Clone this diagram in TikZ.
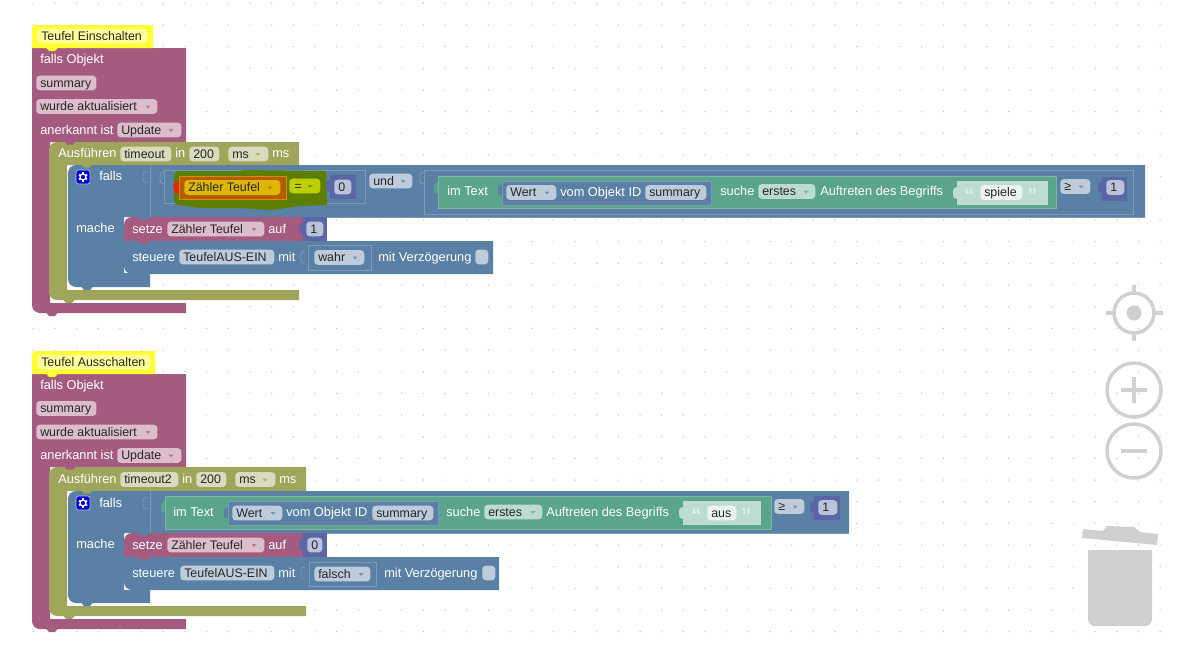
\documentclass[tikz,border=0pt]{standalone}
\usepackage{fontspec}
\setmainfont{Liberation Sans}
\usetikzlibrary{calc}

\definecolor{magblock}{HTML}{A55B80}
\definecolor{magfield}{HTML}{DBBDCC}
\definecolor{oliveblock}{HTML}{9FA55B}
\definecolor{olivefield}{HTML}{D8DBBD}
\definecolor{blueblock}{HTML}{5B80A5}
\definecolor{bluefield}{HTML}{BDCCDB}
\definecolor{blueline}{HTML}{7C99B7}
\definecolor{greenblock}{HTML}{5BA58C}
\definecolor{greenline}{HTML}{7CB7A3}
\definecolor{greenfield}{HTML}{BDDBD1}
\definecolor{purpblock}{HTML}{5B67A5}
\definecolor{purpfield}{HTML}{BDC2DB}
\definecolor{hatyellow}{HTML}{FFFF33}
\definecolor{hatfield}{HTML}{FFFF99}
\definecolor{glowgreen}{HTML}{5C7F00}
\definecolor{gloworange}{HTML}{B85A00}
\definecolor{glowfield}{HTML}{DDB700}
\definecolor{glowlime}{HTML}{BFD000}
\definecolor{iconcol}{HTML}{D0D0D0}
\definecolor{griddot}{HTML}{C0C0C0}

\tikzset{
  fieldshape/.style={rounded corners=2.5pt,inner xsep=3pt,inner ysep=0.85pt,text height=7.8pt,text depth=1.4pt,
                     text=black!85,font=\fontsize{9.3}{11}\selectfont,anchor=west},
  blocklabel/.style={inner sep=0pt,text height=7.8pt,text depth=1.4pt,text=white,
                     font=\fontsize{9.6}{11}\selectfont,anchor=west},
  quotemark/.style={blocklabel,text=white!55!greenfield,font=\fontsize{15}{15}\selectfont\bfseries},
  slotline/.style={draw=blueline,line width=0.6pt},
  iconline/.style={draw=iconcol,line width=2.6pt}
}

% name, colour, left, right, middle, text
\newcommand{\fieldbox}[6]{%
  \pgfmathsetlengthmacro{\fieldw}{(#4-#3-8)*0.75pt}%
  \node[fieldshape,fill=#2] (#1) at (#3,#5) {\makebox[\fieldw][l]{#6}};}
% x, y, colour
\newcommand{\dropmark}[3]{\fill[#3,opacity=0.7] (#1-2.5,#2-1) -- (#1+2.5,#2-1) -- (#1,#2+2) -- cycle;}
\newcommand{\notchmark}[3]{\fill[#3] (#1,#2-0.5) -- (#1+3,#2+3) -- (#1+9,#2+3) -- (#1+12,#2-0.5) -- cycle;}
\newcommand{\tabmark}[3]{\fill[#3] (#1+0.5,#2) -- (#1-3,#2+1) -- (#1-4,#2+4) -- (#1-4,#2+8) -- (#1-3,#2+11) -- (#1+0.5,#2+12) -- cycle;}
\newcommand{\socketmark}[2]{\draw[blueline,line width=0.6pt] (#1,#2) -- (#1-3,#2+1) -- (#1-4,#2+4) -- (#1-4,#2+8) -- (#1-3,#2+11) -- (#1,#2+12);}
\newcommand{\gearmark}[2]{%
  \fill[blue!85!black,draw=bluefield,line width=0.4pt,rounded corners=2pt] (#1-7,#2-7) rectangle (#1+7,#2+7);
  \draw[white,line width=1pt] (#1,#2) circle (3);
  \foreach \a in {30,90,...,330}
    \draw[white,line width=1.1pt] ($(#1,#2)+(\a:3)$) -- ($(#1,#2)+(\a:4.8)$);}

\begin{document}
\begin{tikzpicture}[x=0.75pt,y=-0.75pt]
  \useasboundingbox (0,0) rectangle (1181,644);
  \fill[white] (0,0) rectangle (1181,644);

  % workspace icons
  \draw[iconline] (1134,313) circle (20);
  \fill[iconcol] (1134,313) circle (7.5);
  \draw[iconline] (1134,285) -- (1134,292);
  \draw[iconline] (1134,334) -- (1134,341);
  \draw[iconline] (1106,313) -- (1113,313);
  \draw[iconline] (1155,313) -- (1163,313);
  \draw[iconline] (1134,390) circle (27);
  \draw[iconline] (1134,377) -- (1134,403);
  \draw[iconline] (1121,390) -- (1147,390);
  \draw[iconline] (1134,451) circle (27);
  \draw[iconline] (1121,451) -- (1147,451);
  \fill[iconcol] (1083,529) -- (1103,531) -- (1107,526) -- (1134,527) -- (1140,532) -- (1158,534) -- (1157,545) -- (1082,538) -- cycle;
  \fill[iconcol,rounded corners=5pt] (1088,590) -- (1088,626) -- (1152,626) [sharp corners] -- (1152,550) -- (1088,550) -- cycle;
  \fill[white] (1163,0) rectangle (1181,644);

  \foreach \i in {0,...,52}
    \foreach \j in {0,...,29}
      \fill[griddot] ({33.3+21.67*\i},{3.3+21.67*\j}) circle (0.7);

  %%% first group
  \fill[magblock] (100,48) -- (32,48) [rounded corners=6pt] -- (32,313) [sharp corners] -- (186,313) -- (186,303) -- (50,303) -- (50,142) -- (186,142) -- (186,48) -- cycle;
  \notchmark{46}{313}{magblock}
  \fill[hatyellow] (32,48) [rounded corners=2.5pt] -- (32,25) [sharp corners] -- (153,25) -- (153,48) -- cycle;
  \notchmark{46}{48}{hatyellow}
  \fieldbox{hat1}{hatfield}{37}{147}{36}{Teufel Einschalten}

  \node[blocklabel] (ifobj1) at (40,59.5) {falls Objekt};
  \fieldbox{obj1}{magfield}{36}{96}{83}{summary}
  \fieldbox{trig1}{magfield}{36}{157}{106.5}{wurde aktualisiert}
  \dropmark{148}{106.5}{magblock}
  \node[blocklabel] (ack1) at (40,130) {anerkannt ist};
  \fieldbox{upd1}{magfield}{117}{181}{130}{Update}
  \dropmark{171}{130}{magblock}

  \fill[oliveblock,rounded corners=6pt] (49,160) -- (49,142) [sharp corners] -- (299,142) -- (299,165) -- (67,165) -- (67,290) -- (299,290) -- (299,300) [rounded corners=6pt] -- (49,300) -- cycle;
  \notchmark{63}{300}{oliveblock}
  \notchmark{64}{141.5}{magblock}
  \node[blocklabel] (run1) at (58,153) {Ausführen};
  \fieldbox{tmo1}{olivefield}{120}{171}{154}{timeout}
  \node[blocklabel] (in1) at (175,153) {in};
  \fieldbox{dur1}{olivefield}{189}{219}{154}{200}
  \fieldbox{unit1}{olivefield}{228}{268}{154}{ms}
  \dropmark{258}{154}{oliveblock}
  \node[blocklabel] (ms1) at (272,153) {ms};

  \fill[blueblock,rounded corners=6pt] (68,190) -- (68,165) [sharp corners] -- (1145,165) -- (1145,217) -- (124,217) -- (124,273) -- (150,273) -- (150,287) [rounded corners=6pt] -- (68,287) -- cycle;
  \notchmark{81}{287}{blueblock}
  \notchmark{81}{164.5}{oliveblock}
  \draw[blueline,line width=0.6pt] (150,165) -- (150,217) -- (1145,217);
  \gearmark{83}{177}
  \node[blocklabel] (if1) at (99,176) {falls};
  \node[blocklabel] (do1) at (76,228) {mache};
  \socketmark{147}{171}
  \socketmark{164}{172}
  \draw[slotline] (164,170) rectangle (365,203);

  % highlighted compare block
  \fill[glowgreen] (174,175) -- (177,171) -- (240,171) -- (243,170) -- (326,171) -- (327,205) -- (300,206) -- (272,210) -- (240,208) -- (200,208) -- (176,205) -- (174,200) -- cycle;
  \fill[red!55!gloworange] (179,181) -- (175,182) -- (173,186) -- (175,193) -- (179,194) -- cycle;
  \path[fill=gloworange,draw=glowfield!60!gloworange,line width=0.4pt] (179,176) rectangle (286,199);
  \fieldbox{cnt1}{glowfield}{184}{280}{187.5}{Zähler Teufel}
  \dropmark{270}{187.5}{gloworange}
  \fieldbox{eq1}{glowlime}{289}{320}{186}{\hspace{1pt}=}
  \dropmark{310}{186}{glowgreen}
  \tabmark{330}{180}{purpblock}
  \fill[purpblock] (330,175) rectangle (356,199);
  \fieldbox{zero1}{purpfield}{334}{351}{187}{0}

  \fieldbox{and1}{bluefield}{369}{412}{181}{und}
  \dropmark{403}{181}{blueblock}
  \socketmark{424}{172}
  \draw[slotline] (424,170) rectangle (1133,214);
  \tabmark{438}{182}{greenblock}
  \path[fill=greenblock,draw=greenline,line width=0.6pt] (438,176) rectangle (1056,208);
  \node[blocklabel] (intext1) at (447,191.5) {im Text};
  \tabmark{502}{184}{blueblock}
  \path[fill=blueblock,draw=blueline,line width=0.6pt] (502,181) rectangle (711,205);
  \fieldbox{val1}{bluefield}{506}{556}{192.5}{Wert}
  \dropmark{547}{192.5}{blueblock}
  \node[blocklabel] (ofid1) at (560,192) {vom Objekt ID};
  \fieldbox{sum1}{bluefield}{645}{706}{192.5}{summary}
  \node[blocklabel] (find1) at (720,191.5) {suche};
  \fieldbox{first1}{greenfield}{758}{815}{191.5}{erstes}
  \dropmark{806}{191.5}{greenblock}
  \node[blocklabel] (occ1) at (820,191.5) {Auftreten des Begriffs};
  \tabmark{957}{187}{greenfield}
  \fill[greenfield] (957,181) rectangle (1048,205);
  \node[quotemark] (ql1) at (964,198) {“};
  \fieldbox{str1}{white!70!greenfield}{980}{1022}{192.5}{spiele}
  \node[quotemark] (qr1) at (1027,198) {”};
  \fieldbox{ge1}{bluefield}{1060}{1090}{186.5}{≥}
  \dropmark{1081}{186.5}{blueblock}
  \tabmark{1102}{181}{purpblock}
  \fill[purpblock] (1102,177) rectangle (1127,201);
  \fieldbox{one1}{purpfield}{1106}{1124}{187.5}{1}

  % statements
  \fill[magblock,rounded corners=6pt] (124,232) -- (124,217) [sharp corners] -- (303,217) -- (303,241) -- (124,241) -- cycle;
  \notchmark{138}{216.5}{blueblock}
  \node[blocklabel] (set1) at (132,229) {setze};
  \fieldbox{var1}{magfield}{167}{264}{229}{Zähler Teufel}
  \dropmark{254}{229}{magblock}
  \node[blocklabel] (to1) at (268,229) {auf};
  \tabmark{303}{222}{purpblock}
  \fill[purpblock] (303,217) rectangle (327,241);
  \fieldbox{num1}{purpfield}{306}{323}{229}{1}

  \fill[blueblock] (124,255) -- (124,241) -- (493,241) -- (493,274) [rounded corners=6pt] -- (124,274) -- cycle;
  \notchmark{138}{241}{magblock}
  \notchmark{138}{274}{blueblock}
  \node[blocklabel] (ctl1) at (132,257) {steuere};
  \fieldbox{dev1}{bluefield}{179}{274}{257}{TeufelAUS-EIN}
  \node[blocklabel] (with1) at (278,257) {mit};
  \socketmark{305}{251}
  \draw[slotline] (308,245) rectangle (371,270);
  \fieldbox{val2}{bluefield}{314}{364}{257.5}{wahr}
  \dropmark{355}{257.5}{blueblock}
  \node[blocklabel] (dly1) at (378,257) {mit Verzögerung};
  \fieldbox{chk1}{bluefield}{475}{488}{257}{}

  %%% second group
  \fill[magblock] (100,374) -- (32,374) [rounded corners=6pt] -- (32,629) [sharp corners] -- (186,629) -- (186,619) -- (50,619) -- (50,467) -- (186,467) -- (186,374) -- cycle;
  \notchmark{46}{629}{magblock}
  \fill[hatyellow] (32,374) [rounded corners=2.5pt] -- (32,351) [sharp corners] -- (155,351) -- (155,374) -- cycle;
  \notchmark{46}{374}{hatyellow}
  \fieldbox{hat2}{hatfield}{37}{150}{362}{Teufel Ausschalten}

  \node[blocklabel] (ifobj2) at (40,385) {falls Objekt};
  \fieldbox{obj2}{magfield}{36}{96}{408.5}{summary}
  \fieldbox{trig2}{magfield}{36}{157}{432}{wurde aktualisiert}
  \dropmark{148}{432}{magblock}
  \node[blocklabel] (ack2) at (40,455.5) {anerkannt ist};
  \fieldbox{upd2}{magfield}{117}{181}{455.5}{Update}
  \dropmark{171}{455.5}{magblock}

  \fill[oliveblock,rounded corners=6pt] (49,485) -- (49,467) [sharp corners] -- (306,467) -- (306,491) -- (67,491) -- (67,606) -- (306,606) -- (306,616) [rounded corners=6pt] -- (49,616) -- cycle;
  \notchmark{63}{616}{oliveblock}
  \notchmark{64}{466.5}{magblock}
  \node[blocklabel] (run2) at (58,479) {Ausführen};
  \fieldbox{tmo2}{olivefield}{120}{178}{479.5}{timeout2}
  \node[blocklabel] (in2) at (182,479) {in};
  \fieldbox{dur2}{olivefield}{196}{226}{479.5}{200}
  \fieldbox{unit2}{olivefield}{235}{275}{479.5}{ms}
  \dropmark{265}{479.5}{oliveblock}
  \node[blocklabel] (ms2) at (279,479) {ms};

  \fill[blueblock,rounded corners=6pt] (68,515) -- (68,491) [sharp corners] -- (849,491) -- (849,533) -- (124,533) -- (124,590) -- (150,590) -- (150,603) [rounded corners=6pt] -- (68,603) -- cycle;
  \notchmark{81}{603}{blueblock}
  \notchmark{81}{490.5}{oliveblock}
  \draw[blueline,line width=0.6pt] (150,491) -- (150,533) -- (849,533);
  \gearmark{83}{503}
  \node[blocklabel] (if2) at (99,503) {falls};
  \node[blocklabel] (do2) at (76,544) {mache};
  \socketmark{147}{497}
  \tabmark{165}{501}{greenblock}
  \path[fill=greenblock,draw=greenline,line width=0.6pt] (165,496) rectangle (771,529);
  \node[blocklabel] (intext2) at (173,512) {im Text};
  \tabmark{228}{507}{blueblock}
  \path[fill=blueblock,draw=blueline,line width=0.6pt] (228,501) rectangle (438,525);
  \fieldbox{val3}{bluefield}{232}{282}{513}{Wert}
  \dropmark{273}{513}{blueblock}
  \node[blocklabel] (ofid2) at (286,512.5) {vom Objekt ID};
  \fieldbox{sum2}{bluefield}{372}{433}{513}{summary}
  \node[blocklabel] (find2) at (446,512) {suche};
  \fieldbox{first2}{greenfield}{484}{542}{512}{erstes}
  \dropmark{533}{512}{greenblock}
  \node[blocklabel] (occ2) at (546,512) {Auftreten des Begriffs};
  \tabmark{683}{507}{greenfield}
  \fill[greenfield] (683,501) rectangle (761,525);
  \node[quotemark] (ql2) at (691,518) {“};
  \fieldbox{str2}{white!70!greenfield}{707}{736}{513}{aus}
  \node[quotemark] (qr2) at (741,518) {”};
  \fieldbox{ge2}{bluefield}{774}{804}{506.5}{≥}
  \dropmark{795}{506.5}{blueblock}
  \tabmark{814}{501}{purpblock}
  \fill[purpblock] (814,496) rectangle (840,520);
  \fieldbox{one2}{purpfield}{818}{837}{507.5}{1}

  % statements
  \fill[magblock,rounded corners=6pt] (124,548) -- (124,533) [sharp corners] -- (303,533) -- (303,557) -- (124,557) -- cycle;
  \notchmark{138}{532.5}{blueblock}
  \node[blocklabel] (set2) at (132,545) {setze};
  \fieldbox{var2}{magfield}{167}{264}{545}{Zähler Teufel}
  \dropmark{254}{545}{magblock}
  \node[blocklabel] (to2) at (268,545) {auf};
  \tabmark{303}{538}{purpblock}
  \fill[purpblock] (303,533) rectangle (327,557);
  \fieldbox{num2}{purpfield}{307}{322}{545}{0}

  \fill[blueblock] (124,571) -- (124,557) -- (499,557) -- (499,590) [rounded corners=6pt] -- (124,590) -- cycle;
  \notchmark{138}{557}{magblock}
  \notchmark{138}{590}{blueblock}
  \node[blocklabel] (ctl2) at (132,573) {steuere};
  \fieldbox{dev2}{bluefield}{180}{274}{573}{TeufelAUS-EIN}
  \node[blocklabel] (with2) at (278,573) {mit};
  \socketmark{305}{567}
  \draw[slotline] (309,562) rectangle (376,586);
  \fieldbox{val4}{bluefield}{314}{370}{574}{falsch}
  \dropmark{361}{574}{blueblock}
  \node[blocklabel] (dly2) at (384,573) {mit Verzögerung};
  \fieldbox{chk2}{bluefield}{482}{495}{573}{}
\end{tikzpicture}
\end{document}
